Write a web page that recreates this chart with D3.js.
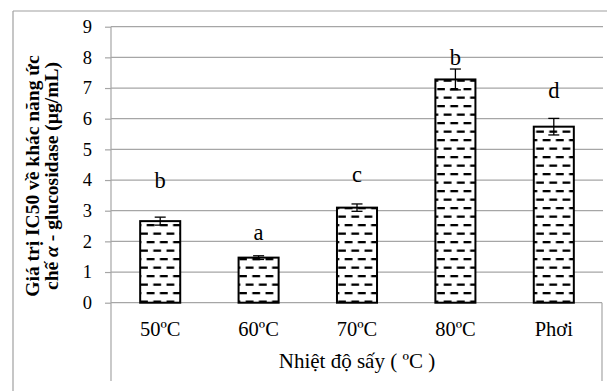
<!DOCTYPE html>
<html><head><meta charset="utf-8">
<script src="https://cdn.jsdelivr.net/npm/d3@7"></script>
<style>html,body{margin:0;padding:0;background:#fff;} svg{display:block;} text{font-family:"Liberation Serif","Times New Roman",Times,"DejaVu Serif",serif;}</style>
</head><body>
<script>
const categories = ["50ºC", "60ºC", "70ºC", "80ºC", "Phơi"];
const values = [2.66, 1.47, 3.10, 7.28, 5.74];
const errors = [0.13, 0.06, 0.12, 0.34, 0.27];
const letters = ["b", "a", "c", "b", "d"];
const letterPos = [3.74, 2.05, 3.93, 7.75, 6.67];
const yTicks = [0, 1, 2, 3, 4, 5, 6, 7, 8, 9];

const W = 607, H = 391;
const svg = d3.select("body").append("svg").attr("width", W).attr("height", H);

const x0 = 111, x1 = 603, yTop = 26.7, yBot = 302.7;
const x = d3.scaleBand().domain(categories).range([x0, x1]).paddingInner(0.593).paddingOuter(0.2965);
const y = d3.scaleLinear().domain([0, 9]).range([yBot, yTop]);

// pattern
const defs = svg.append("defs");
const pat = defs.append("pattern").attr("id", "dash").attr("patternUnits", "userSpaceOnUse")
  .attr("width", 13.2).attr("height", 17).attr("x", 0).attr("y", 0);
pat.append("rect").attr("width", 13.2).attr("height", 17).attr("fill", "#fff");
[[1.5, 3], [8.1, 11.5], [-5.1, 11.5]].forEach(([px, py]) => {
  pat.append("rect").attr("x", px).attr("y", py).attr("width", 7.8).attr("height", 2.3).attr("fill", "#000");
});

// outer border
svg.append("line").attr("x1", 13).attr("x2", 607).attr("y1", 11).attr("y2", 11).attr("stroke", "#a0a0a0").attr("stroke-width", 1.2);
svg.append("line").attr("x1", 13).attr("x2", 13).attr("y1", 11).attr("y2", 391).attr("stroke", "#a0a0a0").attr("stroke-width", 1.2);

// gridlines
svg.append("g").selectAll("line").data(yTicks.filter(t => t > 0)).join("line")
  .attr("x1", x0).attr("x2", x1).attr("y1", d => y(d)).attr("y2", d => y(d))
  .attr("stroke", "#a6a6a6").attr("stroke-width", 1.2);

// y axis
const yAxis = d3.axisLeft(y).tickValues(yTicks).tickSize(6).tickPadding(13).tickFormat(d3.format("d"));
const ga = svg.append("g").attr("transform", `translate(${x0},0)`).call(yAxis);
ga.select(".domain").remove();
ga.attr("font-family", null);
ga.selectAll(".tick line").attr("stroke", "#a6a6a6").attr("stroke-width", 1.2);
ga.selectAll(".tick text").attr("font-size", 18.5).attr("fill", "#000");

// axis lines / lower box
svg.append("line").attr("x1", x0).attr("x2", x0).attr("y1", yTop).attr("y2", 381).attr("stroke", "#a6a6a6").attr("stroke-width", 1.2);
svg.append("line").attr("x1", x0).attr("x2", 602).attr("y1", yBot).attr("y2", yBot).attr("stroke", "#a6a6a6").attr("stroke-width", 1.2);
svg.append("line").attr("x1", 602).attr("x2", 602).attr("y1", yBot).attr("y2", 381).attr("stroke", "#a6a6a6").attr("stroke-width", 1.2);

// bars
svg.append("g").selectAll("rect").data(categories).join("rect")
  .attr("x", d => x(d)).attr("width", x.bandwidth())
  .attr("y", (d, i) => y(values[i])).attr("height", (d, i) => yBot - y(values[i]))
  .attr("fill", "url(#dash)").attr("stroke", "#000").attr("stroke-width", 2);

// error bars
const eg = svg.append("g").attr("stroke", "#000").attr("stroke-width", 1.3);
categories.forEach((c, i) => {
  const cx = x(c) + x.bandwidth() / 2;
  const hi = y(values[i] + errors[i]), lo = y(values[i] - errors[i]);
  eg.append("line").attr("x1", cx).attr("x2", cx).attr("y1", hi).attr("y2", lo);
  eg.append("line").attr("x1", cx - 5.5).attr("x2", cx + 5.5).attr("y1", hi).attr("y2", hi);
  eg.append("line").attr("x1", cx - 5.5).attr("x2", cx + 5.5).attr("y1", lo).attr("y2", lo);
});

// letters
svg.append("g").selectAll("text").data(categories).join("text")
  .attr("x", d => x(d) + x.bandwidth() / 2).attr("y", (d, i) => y(letterPos[i]))
  .attr("text-anchor", "middle").attr("font-size", 22.5).attr("fill", "#000")
  .text((d, i) => letters[i]);

// category labels
svg.append("g").selectAll("text").data(categories).join("text")
  .attr("x", d => x(d) + x.bandwidth() / 2).attr("y", 336)
  .attr("text-anchor", "middle").attr("font-size", 20.5).attr("fill", "#000")
  .text(d => d);

// x title
svg.append("text").attr("x", 357).attr("y", 368).attr("text-anchor", "middle")
  .attr("font-size", 21).attr("fill", "#000").text("Nhiệt độ sấy ( ºC )");

// y title
const yt = svg.append("text").attr("transform", "translate(0,176) rotate(-90)")
  .attr("text-anchor", "middle").attr("font-size", 19.5).attr("font-weight", "bold").attr("fill", "#000");
yt.append("tspan").attr("x", 0).attr("y", 38.5).text("Giá trị IC50 về khác năng ức");
const t2 = yt.append("tspan").attr("x", 0).attr("y", 58);
t2.append("tspan").text("chế ");
t2.append("tspan").attr("font-style", "italic").text("α");
t2.append("tspan").text(" - glucosidase (µg/mL)");
</script>
</body></html>
